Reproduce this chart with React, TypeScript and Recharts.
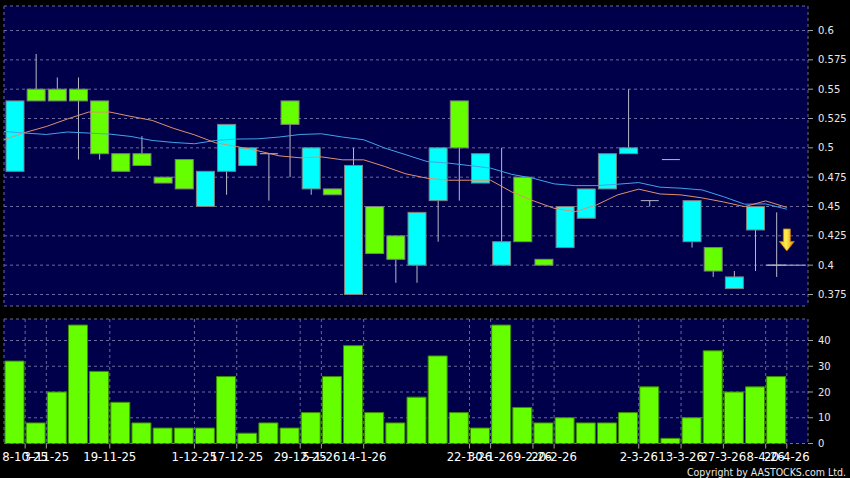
import React from 'react';
import {
  ComposedChart,
  Bar,
  Line,
  XAxis,
  YAxis,
  CartesianGrid,
  ReferenceLine,
  ReferenceDot,
} from 'recharts';

// ---- data ----
const OPEN = [0.48, 0.55, 0.55, 0.55, 0.54, 0.495, 0.495, 0.475, 0.49, 0.45, 0.48, 0.485, 0.495, 0.54, 0.465, 0.465, 0.375, 0.45, 0.425, 0.4, 0.455, 0.54, 0.47, 0.4, 0.475, 0.405, 0.415, 0.44, 0.465, 0.495, 0.455, 0.49, 0.42, 0.415, 0.38, 0.43, 0.4];
const HIGH = [0.54, 0.58, 0.56, 0.56, 0.54, 0.495, 0.51, 0.475, 0.49, 0.48, 0.52, 0.5, 0.495, 0.54, 0.5, 0.465, 0.5, 0.45, 0.425, 0.445, 0.5, 0.54, 0.495, 0.5, 0.475, 0.405, 0.45, 0.465, 0.495, 0.55, 0.455, 0.49, 0.455, 0.415, 0.395, 0.45, 0.445];
const LOW = [0.48, 0.54, 0.54, 0.49, 0.49, 0.48, 0.485, 0.47, 0.465, 0.45, 0.46, 0.485, 0.455, 0.475, 0.46, 0.46, 0.375, 0.41, 0.385, 0.385, 0.42, 0.455, 0.47, 0.4, 0.42, 0.4, 0.415, 0.44, 0.465, 0.495, 0.45, 0.49, 0.415, 0.39, 0.38, 0.395, 0.39];
const CLOSE = [0.54, 0.54, 0.54, 0.54, 0.495, 0.48, 0.485, 0.47, 0.465, 0.48, 0.52, 0.5, 0.495, 0.52, 0.5, 0.46, 0.485, 0.41, 0.405, 0.445, 0.5, 0.5, 0.495, 0.42, 0.42, 0.4, 0.45, 0.465, 0.495, 0.5, 0.455, 0.49, 0.455, 0.395, 0.39, 0.45, 0.4];
const VOLUME = [32, 8, 20, 46, 28, 16, 8, 6, 6, 6, 26, 4, 8, 6, 12, 26, 38, 12, 8, 18, 34, 12, 6, 46, 14, 8, 10, 8, 8, 12, 22, 2, 10, 36, 20, 22, 26];

// moving averages, one value per slot boundary
const MA_FAST = [0.5069, 0.5131, 0.5182, 0.5246, 0.5305, 0.5305, 0.5268, 0.5234, 0.5167, 0.5111, 0.5043, 0.5011, 0.4975, 0.4932, 0.4915, 0.4923, 0.4898, 0.4898, 0.4841, 0.4778, 0.4741, 0.4724, 0.4724, 0.4724, 0.4624, 0.455, 0.4485, 0.4456, 0.4513, 0.4599, 0.4648, 0.4607, 0.4599, 0.4573, 0.4539, 0.4499, 0.4548, 0.4492];
const MA_SLOW = [0.514, 0.5126, 0.5114, 0.5135, 0.5126, 0.5117, 0.5097, 0.5063, 0.5046, 0.5035, 0.5063, 0.5075, 0.5077, 0.5092, 0.5114, 0.512, 0.5092, 0.5069, 0.4998, 0.4941, 0.4883, 0.487, 0.4849, 0.4827, 0.4774, 0.4741, 0.4693, 0.4678, 0.4678, 0.469, 0.4704, 0.4665, 0.4656, 0.4641, 0.4584, 0.452, 0.4522, 0.4477];

const TICK_SLOTS = [1, 2, 5, 9, 11, 14, 15, 17, 22, 23, 25, 26, 30, 32, 34, 36, 37];
const TICK_LABELS = ['8-10-25', '3-11-25', '19-11-25', '1-12-25', '17-12-25', '29-12-25', '5-1-26', '14-1-26', '22-1-26', '30-1-26', '9-2-26', '20-2-26', '2-3-26', '13-3-26', '27-3-26', '8-4-26', '20-4-26'];
const PRICE_TICKS = [0.375, 0.4, 0.425, 0.45, 0.475, 0.5, 0.525, 0.55, 0.575, 0.6];
const VOLUME_TICKS = [0, 10, 20, 30, 40];
const SLOTS = 38;
const LAST_PRICE = 0.4;
const SIGNAL = { x: 37, y: 0.4215 };

// ---- tables for the library ----
const priceRows = MA_FAST.map((m, k) => ({
  cx: k + 0.5,
  mx: k,
  maFast: m,
  maSlow: MA_SLOW[k],
  open: OPEN[k],
  high: HIGH[k],
  low: LOW[k],
  close: CLOSE[k],
  range: k < OPEN.length ? [LOW[k], HIGH[k]] : null,
}));

const volumeRows = VOLUME.map((v, k) => ({ cx: k + 0.5, vol: v }));

const labelFor = (v: number) => {
  const i = TICK_SLOTS.indexOf(v);
  return i >= 0 ? TICK_LABELS[i] : '';
};

const FONT = 'DejaVu Sans, Verdana, sans-serif';
const PANEL = '#00004a';
const GRID = '#6a6a9c';
const WICK = '#b8b8c8';

const Candle = (props: any) => {
  const { x, y, width, height, payload } = props;
  if (!payload || payload.open == null || y == null || isNaN(y)) return <g />;
  const { open, close, high, low } = payload;
  const ratio = high === low ? 0 : height / (high - low);
  const py = (v: number) => y + (high - v) * ratio;
  const mid = x + width / 2;
  const top = Math.min(py(open), py(close));
  const bottom = Math.max(py(open), py(close));
  const color = close > open ? '#00ffff' : '#66ff00';
  return (
    <g>
      <line x1={mid} x2={mid} y1={py(high)} y2={py(low)} stroke={WICK} strokeWidth={1} />
      {open === close ? (
        <line x1={x} x2={x + width} y1={py(open)} y2={py(open)} stroke={WICK} strokeWidth={1} />
      ) : (
        <rect x={x} y={top} width={width} height={Math.max(1, bottom - top)} fill={color} stroke="#7f7f7f" strokeWidth={1} />
      )}
    </g>
  );
};

const Arrow = (props: any) => {
  const { cx, cy } = props;
  if (cx == null || cy == null) return <g />;
  return (
    <g>
      <defs>
        <linearGradient id="arrowGrad" x1="0" x2="1" y1="0" y2="0">
          <stop offset="0" stopColor="#ffb000" />
          <stop offset="0.45" stopColor="#ffee55" />
          <stop offset="1" stopColor="#e08a00" />
        </linearGradient>
      </defs>
      <path
        d={`M${cx - 3.5},${cy - 11} L${cx + 3.5},${cy - 11} L${cx + 3.5},${cy + 1.5} L${cx + 7.5},${cy + 1.5} L${cx},${cy + 11} L${cx - 7.5},${cy + 1.5} L${cx - 3.5},${cy + 1.5} Z`}
        fill="url(#arrowGrad)"
        stroke="#c87800"
        strokeWidth={0.8}
      />
    </g>
  );
};

export default function App() {
  return (
    <div style={{ position: 'absolute', left: 0, top: 0, width: 850, height: 478, background: '#000', overflow: 'hidden' }}>
      <div style={{ position: 'absolute', left: 0, top: 0 }}>
        <ComposedChart width={850} height={310} data={priceRows} margin={{ top: 6, right: 0, bottom: 4, left: 4 }}>
          <CartesianGrid xAxisId="m" fill={PANEL} fillOpacity={1} stroke={GRID} strokeDasharray="3 3" />
          <XAxis xAxisId="c" type="number" dataKey="cx" domain={[0, SLOTS]} hide />
          <XAxis
            xAxisId="m"
            type="number"
            dataKey="mx"
            domain={[0, SLOTS]}
            ticks={TICK_SLOTS}
            interval={0}
            height={0}
            tick={false}
            tickLine={false}
            axisLine={false}
          />
          <YAxis
            orientation="right"
            type="number"
            domain={[0.3652, 0.6209]}
            allowDataOverflow
            ticks={PRICE_TICKS}
            interval={0}
            width={42}
            axisLine={false}
            tickLine={{ stroke: '#a0a0a0' }}
            tickSize={5}
            tickMargin={5}
            tick={{ fill: '#e8e8e8', fontSize: 10, fontFamily: FONT }}
          />
          <Bar xAxisId="c" dataKey="range" barSize={18} shape={Candle} isAnimationActive={false} />
          <Line xAxisId="m" type="linear" dataKey="maSlow" stroke="#3fa4ea" strokeWidth={1} dot={false} activeDot={false} isAnimationActive={false} />
          <Line xAxisId="m" type="linear" dataKey="maFast" stroke="#e0906a" strokeWidth={1} dot={false} activeDot={false} isAnimationActive={false} />
          <ReferenceLine
            xAxisId="m"
            segment={[{ x: 36, y: LAST_PRICE }, { x: 37.9, y: LAST_PRICE }]}
            stroke={WICK}
            strokeWidth={1}
          />
          <ReferenceDot xAxisId="m" x={SIGNAL.x} y={SIGNAL.y} shape={Arrow} />
        </ComposedChart>
      </div>
      <div style={{ position: 'absolute', left: 0, top: 310 }}>
        <ComposedChart width={850} height={168} data={volumeRows} margin={{ top: 9, right: 0, bottom: 0, left: 4 }}>
          <CartesianGrid fill={PANEL} fillOpacity={1} stroke={GRID} strokeDasharray="3 3" />
          <XAxis
            type="number"
            dataKey="cx"
            domain={[0, SLOTS]}
            ticks={TICK_SLOTS}
            interval={0}
            tickFormatter={labelFor}
            height={34.5}
            tickSize={5}
            tickMargin={4}
            axisLine={false}
            tickLine={{ stroke: '#a0a0a0' }}
            tick={{ fill: '#ffffff', fontSize: 11.7, fontFamily: FONT }}
          />
          <YAxis
            orientation="right"
            type="number"
            domain={[0, 48.35]}
            allowDataOverflow
            ticks={VOLUME_TICKS}
            interval={0}
            width={42}
            axisLine={false}
            tickLine={{ stroke: '#a0a0a0' }}
            tickSize={5}
            tickMargin={5}
            tick={{ fill: '#e8e8e8', fontSize: 10, fontFamily: FONT }}
          />
          <Bar dataKey="vol" barSize={19} fill="#66ff00" stroke="#3c8c00" strokeWidth={1} isAnimationActive={false} />
        </ComposedChart>
      </div>
      <svg width={850} height={478} style={{ position: 'absolute', left: 0, top: 0, pointerEvents: 'none' }}>
        <text
          x={846}
          y={476}
          textAnchor="end"
          fill="#e8e8e8"
          fontSize={10.5}
          fontFamily={FONT}
          textLength={159}
          lengthAdjust="spacingAndGlyphs"
        >
          Copyright by AASTOCKS.com Ltd.
        </text>
      </svg>
    </div>
  );
}
